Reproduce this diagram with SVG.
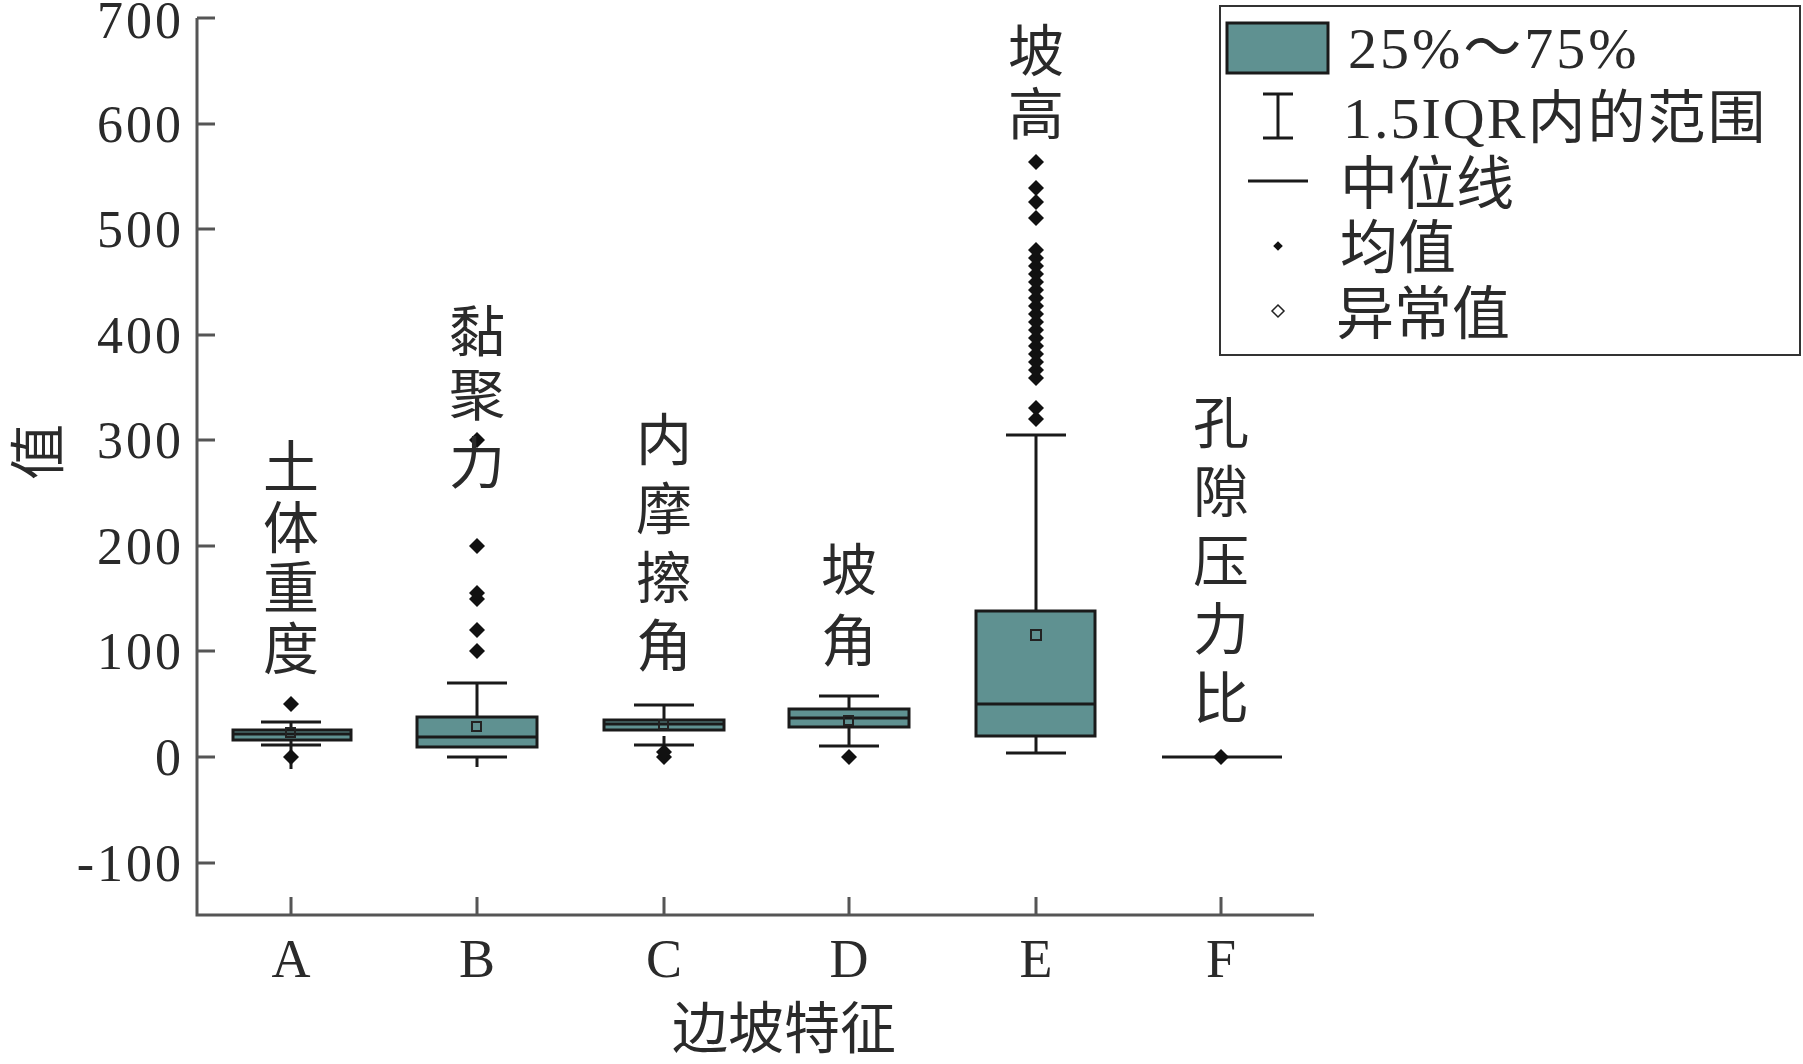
<svg xmlns="http://www.w3.org/2000/svg" width="1803" height="1064" viewBox="0 0 1803 1064">
<style>
.t{font-family:"Liberation Serif","Noto Sans CJK SC",serif;fill:#2a2a2a}
.n{font-size:52px;text-anchor:end;letter-spacing:3px}
.c{font-size:56px;text-anchor:middle}
.ln{stroke:#1a1a1a;stroke-width:3;fill:none}
.box{fill:#5f9191;stroke:#1a1a1a;stroke-width:3}
.ax{stroke:#555;stroke-width:3;fill:none}
.mean{fill:none;stroke:#222;stroke-width:2}
</style>
<defs>
<path id="d" d="M0,-8 L8,0 L0,8 L-8,0 Z" fill="#111"/>
</defs>
<rect width="1803" height="1064" fill="#fff"/>
<g id="axes">
<path class="ax" d="M197,18 V915 H1314"/>
<path class="ax" d="M197,18h18M197,124h18M197,229h18M197,335h18M197,440h18M197,546h18M197,651h18M197,757h18M197,863h18"/>
<path class="ax" d="M291,915v-18M477,915v-18M664,915v-18M849,915v-18M1036,915v-18M1221,915v-18"/>
<g class="t n">
<text x="184" y="38">700</text><text x="184" y="142">600</text><text x="184" y="247">500</text><text x="184" y="353">400</text><text x="184" y="458">300</text><text x="184" y="564">200</text><text x="184" y="669">100</text><text x="184" y="775">0</text><text x="184" y="881">-100</text>
</g>
<g class="t c" style="font-size:54px">
<text x="291" y="977">A</text><text x="477" y="977">B</text><text x="664" y="977">C</text><text x="849" y="977">D</text><text x="1036" y="977">E</text><text x="1221" y="977">F</text>
</g>
<text class="t c" x="784" y="1048">边坡特征</text>
<text class="t c" x="0" y="0" transform="translate(58,452) rotate(-90)">值</text>
</g>
<g id="A">
<path class="ln" d="M291,745V722M291,737V769M261,722h60M261,745h60"/>
<rect class="box" x="233" y="730" width="118" height="10"/>
<path class="ln" d="M233,734h118"/>
<rect class="mean" x="286" y="728" width="9" height="9"/>
<use href="#d" x="291" y="704"/><use href="#d" x="291" y="757"/>
<g class="t c"><text x="291" y="487">土</text><text x="291" y="548">体</text><text x="291" y="608">重</text><text x="291" y="669">度</text></g>
</g>
<g id="B">
<path class="ln" d="M477,747V683M477,767V757M447,683h60M447,757h60"/>
<rect class="box" x="417" y="717" width="120" height="30"/>
<path class="ln" d="M417,737h120"/>
<rect class="mean" x="472" y="722" width="9" height="9"/>
<use href="#d" x="477" y="651"/><use href="#d" x="477" y="630"/><use href="#d" x="477" y="599"/><use href="#d" x="477" y="593"/><use href="#d" x="477" y="546"/><use href="#d" x="477" y="440"/>
<g class="t c"><text x="477" y="352">黏</text><text x="477" y="415">聚</text><text x="477" y="483">力</text></g>
</g>
<g id="C">
<path class="ln" d="M664,720V705M664,736V745M634,705h60M634,745h60"/>
<rect class="box" x="604" y="720" width="120" height="10"/>
<path class="ln" d="M604,724h120"/>
<rect class="mean" x="659" y="720" width="9" height="9"/>
<use href="#d" x="664" y="757"/><use href="#d" x="664" y="752"/>
<g class="t c"><text x="664" y="460">内</text><text x="664" y="529">摩</text><text x="664" y="598">擦</text><text x="664" y="666">角</text></g>
</g>
<g id="D">
<path class="ln" d="M849,709V696M849,727V746M819,696h60M819,746h60"/>
<rect class="box" x="789" y="709" width="120" height="18"/>
<path class="ln" d="M789,718h120"/>
<rect class="mean" x="844" y="716" width="9" height="9"/>
<use href="#d" x="849" y="757"/>
<g class="t c"><text x="849" y="590">坡</text><text x="849" y="661">角</text></g>
</g>
<g id="E">
<path class="ln" d="M1036,611V435M1036,736V753M1006,435h60M1006,753h60"/>
<rect class="box" x="976" y="611" width="119" height="125"/>
<path class="ln" d="M976,704h119"/>
<rect class="mean" x="1031" y="630" width="10" height="10"/>
<use href="#d" x="1036" y="419"/><use href="#d" x="1036" y="408"/><use href="#d" x="1036" y="378"/><use href="#d" x="1036" y="370"/><use href="#d" x="1036" y="362"/><use href="#d" x="1036" y="354"/><use href="#d" x="1036" y="346"/><use href="#d" x="1036" y="338"/><use href="#d" x="1036" y="330"/><use href="#d" x="1036" y="322"/><use href="#d" x="1036" y="314"/><use href="#d" x="1036" y="306"/><use href="#d" x="1036" y="298"/><use href="#d" x="1036" y="290"/><use href="#d" x="1036" y="282"/><use href="#d" x="1036" y="274"/><use href="#d" x="1036" y="266"/><use href="#d" x="1036" y="258"/><use href="#d" x="1036" y="250"/><use href="#d" x="1036" y="218"/><use href="#d" x="1036" y="202"/><use href="#d" x="1036" y="188"/><use href="#d" x="1036" y="162"/>
<g class="t c"><text x="1036" y="71">坡</text><text x="1036" y="134">高</text></g>
</g>
<g id="F">
<path class="ln" d="M1162,757h120"/>
<use href="#d" x="1221" y="757"/>
<g class="t c"><text x="1221" y="443">孔</text><text x="1221" y="512">隙</text><text x="1221" y="581">压</text><text x="1221" y="649">力</text><text x="1221" y="718">比</text></g>
</g>
<g id="legend">
<rect x="1220" y="6" width="580" height="349" fill="#fff" stroke="#333" stroke-width="2"/>
<rect class="box" x="1227" y="23" width="101" height="50"/>
<path class="ln" d="M1263,94h30M1278,94v44M1263,138h30M1248,181h60"/>
<use href="#d" x="1278" y="246" transform="translate(1278,246) scale(0.6) translate(-1278,-246)"/>
<path d="M1278,305 l6,6 l-6,6 l-6,-6 z" fill="#fff" stroke="#222" stroke-width="1.5"/>
<g class="t" style="font-size:58px">
<text x="1348" y="68" letter-spacing="3">25%～75%</text>
<text x="1343" y="138" letter-spacing="2">1.5IQR内的范围</text>
<text x="1340" y="204">中位线</text>
<text x="1340" y="268">均值</text>
<text x="1336" y="334">异常值</text>
</g>
</g>
</svg>
